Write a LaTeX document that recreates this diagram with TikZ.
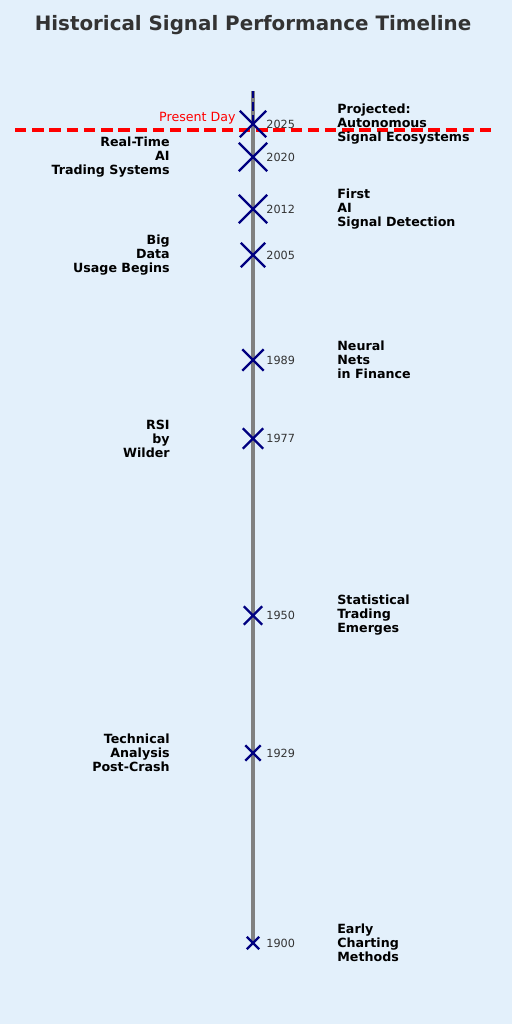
\documentclass[tikz,border=0pt]{standalone}
\usepackage{fontspec}
\setmainfont{DejaVu Sans}
\usepackage{xcolor}
\usepackage{tikz}
\usetikzlibrary{positioning, shapes.misc}
\definecolor{cbg}{HTML}{E3F0FB}
\definecolor{ctitle}{HTML}{333333}
\definecolor{cnavy}{HTML}{000080}
\definecolor{cspine}{HTML}{808080}

\begin{document}
\begin{tikzpicture}[
    evmark/.style={cross out, draw=cnavy, line width=1.4pt, minimum size=#1, inner sep=0pt},
    yearlbl/.style={font=\fontsize{6.4}{7.5}\selectfont, text=ctitle, inner sep=0pt, anchor=west},
    leftlbl/.style={font=\fontsize{7.2}{8}\selectfont\bfseries, align=right, anchor=east, inner sep=0pt},
    rightlbl/.style={font=\fontsize{7.2}{8}\selectfont\bfseries, align=left, anchor=west, inner sep=0pt},
]
    % Background
    \fill[cbg] (0,0) rectangle (10.24,20.48);
    \useasboundingbox (0,0) rectangle (10.24,20.48);

    % Title
    \node[font=\fontsize{11.3}{13}\selectfont\bfseries, text=ctitle] (title) at (5.06,19.98) {Historical Signal Performance Timeline};

    % Spine and projection
    \coordinate (top) at (5.06,18.66);
    \coordinate (bottom) at (5.06,1.62);
    \coordinate (now) at (5.06,18.00);
    \draw[cspine, line width=2pt] (bottom) -- (top);
    \draw[cnavy, line width=1.1pt, dash pattern=on 5pt off 2.5pt] (now) -- (top);

    % Present day
    \coordinate (nowl) at (0.30,17.88);
    \coordinate (nowr) at (9.84,17.88);
    \draw[red, line width=2pt, dash pattern=on 6.5pt off 3.3pt] (nowl) -- (nowr);
    \node[font=\fontsize{7.2}{8.5}\selectfont, text=red, anchor=east, inner sep=0pt] (nowlbl) at (4.72,18.12) {Present Day};

    % Markers
    \node[evmark=0.20cm] (y1900) at (bottom) {};
    \node[evmark=0.26cm] (y1929) at (5.06,5.42) {};
    \node[evmark=0.32cm] (y1950) at (5.06,8.17) {};
    \node[evmark=0.36cm] (y1977) at (5.06,11.71) {};
    \node[evmark=0.38cm] (y1989) at (5.06,13.28) {};
    \node[evmark=0.44cm] (y2005) at (5.06,15.38) {};
    \node[evmark=0.52cm] (y2012) at (5.06,16.30) {};
    \node[evmark=0.52cm] (y2020) at (5.06,17.34) {};
    \node[evmark=0.48cm] (y2025) at (now) {};

    % Years
    \node[yearlbl] at (5.32,1.62) {1900};
    \node[yearlbl] at (5.32,5.42) {1929};
    \node[yearlbl] at (5.32,8.17) {1950};
    \node[yearlbl] at (5.32,11.71) {1977};
    \node[yearlbl] at (5.32,13.28) {1989};
    \node[yearlbl] at (5.32,15.38) {2005};
    \node[yearlbl] at (5.32,16.30) {2012};
    \node[yearlbl] at (5.32,17.34) {2020};
    \node[yearlbl] at (5.32,18.00) {2025};

    % Events, left side
    \node[leftlbl] (e2020) at (3.40,17.34) {Real-Time\\AI\\Trading Systems};
    \node[leftlbl] (e2005) at (3.40,15.38) {Big\\Data\\Usage Begins};
    \node[leftlbl] (e1977) at (3.40,11.71) {RSI\\by\\Wilder};
    \node[leftlbl] (e1929) at (3.40,5.42) {Technical\\Analysis\\Post-Crash};

    % Events, right side
    \node[rightlbl] (e2025) at (6.74,18.00) {Projected:\\Autonomous\\Signal Ecosystems};
    \node[rightlbl] (e2012) at (6.74,16.30) {First\\AI\\Signal Detection};
    \node[rightlbl] (e1989) at (6.74,13.28) {Neural\\Nets\\in Finance};
    \node[rightlbl] (e1950) at (6.74,8.17) {Statistical\\Trading\\Emerges};
    \node[rightlbl] (e1900) at (6.74,1.62) {Early\\Charting\\Methods};
\end{tikzpicture}
\end{document}
